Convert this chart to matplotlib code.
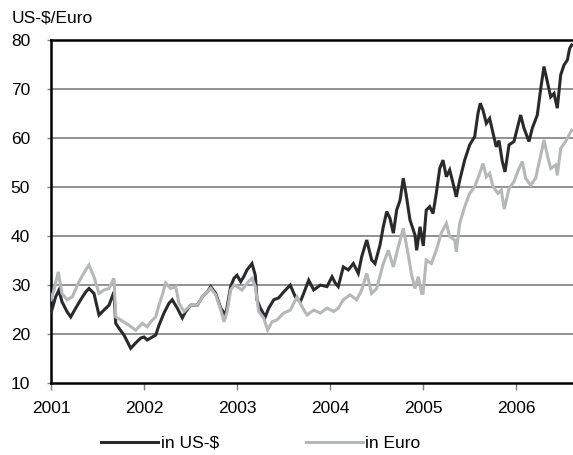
"""
Oil price 2001-2006 in US-$ and in Euro (per barrel).
Writes: out.png
"""

import matplotlib
matplotlib.use("Agg")
import matplotlib.pyplot as plt
import numpy as np

plt.rcParams["font.family"] = ["Liberation Sans", "DejaVu Sans"]

# ---------------------------------------------------------------------------
# Data (x in years since 1 Jan 2001)
# ---------------------------------------------------------------------------
usd_t = [0.00, 0.05, 0.086, 0.118, 0.172, 0.212, 0.266, 0.319, 0.373, 0.409,
         0.462, 0.516, 0.570, 0.624, 0.677, 0.696, 0.731, 0.785, 0.857, 0.911,
         0.965, 1.000, 1.035, 1.072, 1.126, 1.161, 1.215, 1.269, 1.304, 1.358,
         1.412, 1.448, 1.502, 1.573, 1.627, 1.681, 1.717, 1.771, 1.825, 1.878,
         1.932, 1.968, 2.000, 2.040, 2.072, 2.108, 2.161, 2.197, 2.215, 2.251,
         2.304, 2.341, 2.395, 2.448, 2.502, 2.573, 2.627, 2.681, 2.717, 2.771,
         2.825, 2.896, 2.968, 3.022, 3.057, 3.089, 3.143, 3.197, 3.251, 3.304,
         3.341, 3.395, 3.448, 3.484, 3.538, 3.573, 3.610, 3.645, 3.681, 3.717,
         3.753, 3.788, 3.817, 3.860, 3.914, 3.932, 3.968, 4.003, 4.035, 4.072,
         4.108, 4.143, 4.180, 4.215, 4.251, 4.287, 4.323, 4.358, 4.395, 4.448,
         4.502, 4.556, 4.591, 4.616, 4.645, 4.681, 4.717, 4.753, 4.788, 4.817,
         4.853, 4.882, 4.925, 4.978, 5.014, 5.050, 5.086, 5.140, 5.175, 5.229,
         5.266, 5.301, 5.337, 5.373, 5.409, 5.444, 5.481, 5.516, 5.552, 5.577,
         5.599]
usd_val = [24.3, 27.6, 29.0, 26.6, 24.6, 23.5, 25.3, 27.0, 28.6, 29.3,
           28.3, 23.9, 24.9, 25.9, 28.6, 22.2, 21.2, 19.8, 17.1, 18.2,
           19.2, 19.4, 18.8, 19.2, 19.8, 21.8, 24.3, 26.3, 27.0, 25.3,
           23.3, 24.6, 25.9, 25.9, 27.6, 28.6, 29.7, 28.3, 25.3, 23.9,
           29.7, 31.4, 32.0, 30.7, 31.7, 33.1, 34.4, 32.0, 27.0, 25.3,
           23.5, 25.3, 27.0, 27.4, 28.6, 30.0, 27.6, 26.6, 28.3, 31.0,
           29.0, 30.0, 29.7, 31.7, 30.4, 29.7, 33.7, 33.1, 34.4, 32.4,
           35.8, 39.2, 35.1, 34.4, 38.2, 41.9, 45.0, 43.6, 40.6, 45.3,
           47.3, 51.8, 48.7, 43.3, 40.2, 37.1, 41.9, 38.0, 45.3, 46.0,
           44.6, 48.7, 53.8, 55.5, 52.1, 53.5, 50.8, 48.0, 51.4, 55.5,
           58.6, 60.3, 65.0, 67.1, 65.7, 63.0, 64.0, 61.0, 58.2, 59.5,
           55.2, 53.1, 58.6, 59.3, 62.0, 64.7, 62.0, 59.3, 62.0, 64.7,
           70.1, 74.6, 71.5, 68.4, 69.1, 66.1, 72.9, 74.9, 75.9, 78.3,
           79.0]

eur_t = [0.00, 0.032, 0.078, 0.118, 0.172, 0.229, 0.301, 0.373, 0.409, 0.462,
         0.516, 0.570, 0.624, 0.677, 0.696, 0.749, 0.839, 0.911, 0.982, 1.035,
         1.072, 1.126, 1.161, 1.197, 1.233, 1.287, 1.341, 1.376, 1.430, 1.502,
         1.573, 1.627, 1.681, 1.717, 1.771, 1.825, 1.860, 1.892, 1.932, 1.968,
         2.000, 2.054, 2.108, 2.161, 2.197, 2.233, 2.287, 2.330, 2.376, 2.430,
         2.502, 2.573, 2.645, 2.699, 2.753, 2.825, 2.896, 2.968, 3.040, 3.089,
         3.143, 3.215, 3.287, 3.341, 3.395, 3.448, 3.502, 3.573, 3.627, 3.681,
         3.734, 3.788, 3.842, 3.878, 3.914, 3.949, 3.986, 4.000, 4.035, 4.089,
         4.143, 4.197, 4.251, 4.287, 4.341, 4.358, 4.395, 4.448, 4.502, 4.556,
         4.610, 4.645, 4.681, 4.717, 4.753, 4.806, 4.842, 4.874, 4.925, 4.978,
         5.032, 5.068, 5.104, 5.158, 5.211, 5.266, 5.301, 5.337, 5.373, 5.427,
         5.444, 5.481, 5.534, 5.570, 5.599]
eur_val = [27.0, 29.0, 32.7, 28.3, 27.0, 27.6, 30.7, 33.1, 34.1, 31.7,
           28.3, 29.0, 29.3, 31.4, 23.5, 22.9, 21.8, 20.8, 22.2, 21.5,
           22.5, 23.5, 25.9, 28.0, 30.4, 29.3, 29.7, 26.3, 24.6, 25.9,
           25.9, 27.6, 28.6, 29.4, 28.0, 25.0, 22.5, 24.5, 29.0, 30.0,
           29.7, 29.0, 30.4, 31.4, 29.7, 24.6, 23.3, 20.8, 22.5, 22.9,
           24.3, 24.9, 27.6, 25.6, 23.9, 24.9, 24.3, 25.3, 24.6, 25.3,
           27.0, 28.0, 27.0, 29.0, 32.4, 28.3, 29.3, 34.4, 37.1, 33.7,
           37.8, 41.6, 36.1, 32.0, 29.3, 31.7, 28.3, 28.3, 35.1, 34.4,
           37.1, 40.6, 42.6, 39.9, 39.2, 36.8, 42.6, 46.0, 48.7, 50.1,
           52.8, 54.8, 52.1, 52.8, 50.1, 48.7, 49.4, 45.5, 49.7, 51.1,
           53.8, 55.2, 51.8, 50.4, 51.8, 56.5, 59.6, 56.5, 53.8, 54.5,
           52.4, 57.9, 59.3, 60.6, 61.6]

year_ticks = [2001, 2002, 2003, 2004, 2005, 2006]
y_ticks = [10, 20, 30, 40, 50, 60, 70, 80]

usd_x = 2001 + np.array(usd_t)
eur_x = 2001 + np.array(eur_t)

# ---------------------------------------------------------------------------
# Figure
# ---------------------------------------------------------------------------
fig = plt.figure(figsize=(5.73, 4.55), dpi=100)
ax = fig.add_axes([0.089, 0.158, 0.911, 0.754])

ax.plot(usd_x, usd_val, color="#2a2a2c", lw=2.2, zorder=3,
        solid_joinstyle="miter", label="in US-$")
ax.plot(eur_x, eur_val, color="#b5b7b9", lw=2.2, zorder=4,
        solid_joinstyle="miter", label="in Euro")

ax.set_xlim(2001, 2006.613)
ax.set_ylim(10, 80)
ax.set_xticks(year_ticks)
ax.set_yticks(y_ticks)

# gridlines between the spines
for v in y_ticks[1:-1]:
    ax.axhline(v, color="#7f7f7f", lw=1.2, zorder=1)

for side in ("left", "bottom", "top"):
    ax.spines[side].set_linewidth(1.8)
    ax.spines[side].set_color("black")
ax.spines["right"].set_visible(False)

ax.tick_params(axis="x", direction="out", length=5, width=1, color="#7f7f7f",
               labelsize=12.5, pad=8)
ax.tick_params(axis="y", direction="out", length=3, width=1, color="#7f7f7f",
               labelsize=12.5, pad=12)

fig.text(12 / 573, 1 - 18 / 455, "US-$/Euro", fontsize=12.5,
         ha="left", va="center")

fig.legend(loc="center", bbox_to_anchor=(0.455, 0.026), ncol=2,
           frameon=False, fontsize=12.5, handlelength=3.3,
           handletextpad=0.15, columnspacing=5.0, borderaxespad=0)

fig.savefig("out.png", dpi=100)
plt.close(fig)
